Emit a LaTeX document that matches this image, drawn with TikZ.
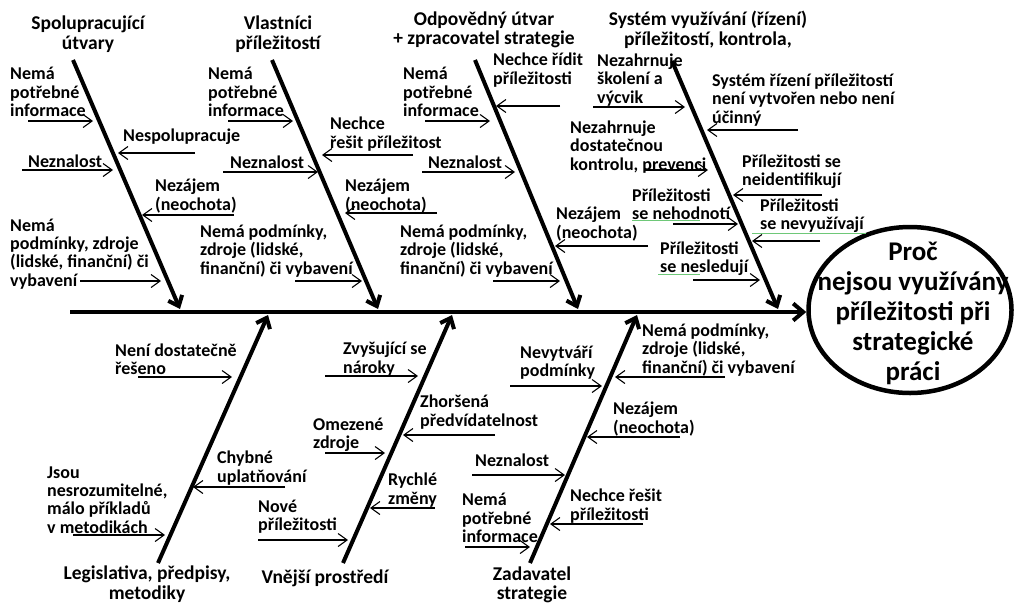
\documentclass[tikz,border=0pt]{standalone}
\usepackage{fontspec}
\setmainfont{Carlito}
\usetikzlibrary{arrows.meta,shapes.geometric,calc}

\newcommand{\lblfont}{\bfseries\fontsize{18}{18.3}\selectfont}
\newcommand{\ttlfont}{\bfseries\fontsize{19.5}{19.5}\selectfont}
\newcommand{\goalfont}{\bfseries\fontsize{27}{30}\selectfont}
% one cause arrow: name, start x, tip x, y
\newcommand{\causearr}[4]{%
  \coordinate (#1s) at (#2,#4);
  \coordinate (#1e) at (#3,#4);
  \draw[cause] (#1s) -- (#1e);}

\definecolor{spellgreen}{RGB}{110,200,120}

\begin{document}
\begin{tikzpicture}[x=1pt,y=-1pt,
  bone/.style={line width=4pt,-{Straight Barb[length=9pt,width=15pt]}},
  cause/.style={line width=1.1pt,-{Straight Barb[length=9pt,width=13pt]}},
  lbl/.style={font=\lblfont,align=left,inner sep=0pt,anchor=west},
  ttl/.style={font=\ttlfont,align=center,inner sep=0pt},
  spell/.style={spellgreen,line width=0.7pt}]
\useasboundingbox (0,0) rectangle (1016,603);

% effect
\node[draw,ellipse,line width=4.5pt,minimum width=203pt,minimum height=166pt,inner sep=0pt] (goal) at (910,310) {};
\node[font=\goalfont,align=center,inner sep=0pt] (goaltext) at (913,313)
  {Proč\\nejsou využívány\\příležitosti při\\strategické\\práci};

% spine
\coordinate (spS) at (70,312);
\draw[bone,-{Straight Barb[length=10pt,width=17pt]}] (spS) -- (spS -| goal.west);

% main bones
\coordinate (b1s) at (73,60);   \coordinate (b1e) at (180,309);
\coordinate (b2s) at (272,60);  \coordinate (b2e) at (378,309);
\coordinate (b3s) at (475,60);  \coordinate (b3e) at (578,309);
\coordinate (b4s) at (672,61);  \coordinate (b4e) at (778,309);
\coordinate (b5s) at (158,563); \coordinate (b5e) at (268,315);
\coordinate (b6s) at (343,563); \coordinate (b6e) at (452,315);
\coordinate (b7s) at (530,563); \coordinate (b7e) at (637,315);
\foreach \b in {1,...,7} \draw[bone] (b\b s) -- (b\b e);

% bone titles
\node[ttl] (t1) at (88,34) {Spolupracující\\útvary};
\node[ttl] (t2) at (278,34) {Vlastníci\\příležitostí};
\node[ttl] (t3) at (484,30) {Odpovědný útvar\\+ zpracovatel strategie};
\node[ttl] (t4) at (708,30) {Systém využívání (řízení)\\příležitostí, kontrola,};
\node[ttl] (t5) at (147,584) {Legislativa, předpisy,\\metodiky};
\node[ttl] (t6) at (325,578) {Vnější prostředí};
\node[ttl] (t7) at (532,585) {Zadavatel\\strategie};

% Spolupracující útvary
\node[lbl] (l1a) at (10,92) {Nemá\\potřebné\\informace};
\causearr{c1a}{28}{93}{121}
\node[lbl] (l1b) at (123,137) {Nespolupracuje};
\causearr{c1b}{195}{118}{153}
\node[lbl] (l1c) at (28,161) {Neznalost};
\causearr{c1c}{22}{113}{170}
\node[lbl] (l1d) at (155,196) {Nezájem\\(neochota)};
\causearr{c1d}{234}{142}{215}
\node[lbl] (l1e) at (10,254) {Nemá\\podmínky, zdroje\\(lidské, finanční) či\\vybavení};
\causearr{c1e}{80}{161}{281}

% Vlastníci příležitostí
\node[lbl] (l2a) at (208,92) {Nemá\\potřebné\\informace};
\causearr{c2a}{228}{293}{121}
\node[lbl] (l2b) at (330,134) {Nechce\\řešit příležitost};
\causearr{c2b}{413}{322}{155}
\node[lbl] (l2c) at (230,162) {Neznalost};
\causearr{c2c}{223}{318}{172}
\node[lbl] (l2d) at (345,196) {Nezájem\\(neochota)};
\causearr{c2d}{437}{345}{213}
\node[lbl] (l2e) at (200,251) {Nemá podmínky,\\zdroje (lidské,\\finanční) či vybavení};
\causearr{c2e}{295}{362}{281}

% Odpovědný útvar
\node[lbl] (l3a) at (403,92) {Nemá\\potřebné\\informace};
\causearr{c3a}{425}{490}{121}
\node[lbl] (l3b) at (493,70) {Nechce řídit\\příležitosti};
\causearr{c3b}{560}{496}{106}
\node[lbl] (l3c) at (428,162) {Neznalost};
\causearr{c3c}{422}{515}{172}
\node[lbl] (l3d) at (556,224) {Nezájem\\(neochota)};
\causearr{c3d}{648}{555}{246}
\node[lbl] (l3e) at (400,251) {Nemá podmínky,\\zdroje (lidské,\\finanční) či vybavení};
\causearr{c3e}{493}{560}{281}

% Systém využívání
\node[lbl] (l4a) at (597,80) {Nezahrnuje\\školení a\\výcvik};
\causearr{c4a}{593}{685}{107}
\node[lbl] (l4b) at (712,100) {Systém řízení příležitostí\\není vytvořen nebo není\\účinný};
\causearr{c4b}{798}{707}{130}
\node[lbl] (l4c) at (570,147) {Nezahrnuje\\dostatečnou\\kontrolu, prevenci};
\causearr{c4c}{645}{708}{170}
\node[lbl] (l4d) at (742,172) {Příležitosti se\\neidentifikují};
\causearr{c4d}{822}{733}{195}
\node[lbl] (l4e) at (632,204) {Příležitosti\\se nehodnotí};
\draw[spell] (632,220) -- (700,220);
\causearr{c4e}{673}{738}{224}
\node[lbl] (l4f) at (760,216) {Příležitosti\\se nevyužívají};
\draw[spell] (752,233) -- (866,233);
\causearr{c4f}{820}{752}{241}
\node[lbl] (l4g) at (660,259) {Příležitosti\\se nesledují};
\draw[spell] (658,274) -- (700,274);
\causearr{c4g}{693}{760}{280}

% Legislativa, předpisy, metodiky
\node[lbl] (l5a) at (115,359) {Není dostatečně\\řešeno};
\causearr{c5a}{138}{232}{377}
\node[lbl] (l5b) at (217,468) {Chybné\\uplatňování};
\causearr{c5b}{285}{193}{487}
\node[lbl] (l5c) at (47,500) {Jsou\\nesrozumitelné,\\málo příkladů\\v metodikách};
\causearr{c5c}{73}{165}{535}

% Vnější prostředí
\node[lbl] (l6a) at (343,359) {Zvyšující se\\nároky};
\causearr{c6a}{325}{418}{376}
\node[lbl] (l6b) at (420,412) {Zhoršená\\předvídatelnost};
\causearr{c6b}{495}{403}{435}
\node[lbl] (l6c) at (313,435) {Omezené\\zdroje};
\causearr{c6c}{325}{385}{453}
\node[lbl] (l6d) at (388,490) {Rychlé\\změny};
\causearr{c6d}{435}{370}{508}
\node[lbl] (l6e) at (258,517) {Nové\\příležitosti};
\causearr{c6e}{258}{348}{540}

% Zadavatel strategie
\node[lbl] (l7a) at (642,350) {Nemá podmínky,\\zdroje (lidské,\\finanční) či vybavení};
\causearr{c7a}{725}{615}{377}
\node[lbl] (l7b) at (520,363) {Nevytváří\\podmínky};
\causearr{c7b}{510}{602}{386}
\node[lbl] (l7c) at (613,419) {Nezájem\\(neochota)};
\causearr{c7c}{680}{587}{437}
\node[lbl] (l7d) at (475,460) {Neznalost};
\causearr{c7d}{472}{565}{475}
\node[lbl] (l7e) at (570,506) {Nechce řešit\\příležitosti};
\causearr{c7e}{643}{550}{524}
\node[lbl] (l7f) at (462,518) {Nemá\\potřebné\\informace};
\causearr{c7f}{465}{530}{547}
\end{tikzpicture}
\end{document}
